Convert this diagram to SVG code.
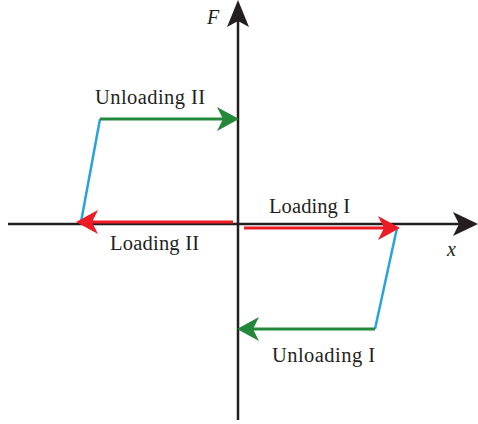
<svg xmlns="http://www.w3.org/2000/svg" width="478" height="424" viewBox="0 0 478 424">
  <style>
    .axis { stroke: #231f20; stroke-width: 2.5; fill: none; }
    .head-k { fill: #231f20; }
    .red { stroke: #ed1c24; stroke-width: 3; fill: none; }
    .head-r { fill: #ed1c24; }
    .green { stroke: #23883a; stroke-width: 3; fill: none; }
    .head-g { fill: #23883a; }
    .blue { stroke: #29a3dd; stroke-width: 2.5; fill: none; }
    .lbl { font-family: "Liberation Serif", "Times New Roman", serif; font-size: 20.5px; fill: #231f20; }
    .var { font-family: "Liberation Serif", "Times New Roman", serif; font-size: 20px; font-style: italic; fill: #231f20; }
  </style>

  <g id="axes">
    <line class="axis" x1="238" y1="20" x2="238" y2="420"/>
    <path class="head-k" d="M238,0 L249,27 L238,21 L227,27 Z"/>
    <line class="axis" x1="8" y1="224" x2="460" y2="224"/>
    <path class="head-k" d="M478,224 L453,236 L459,224 L453,212 Z"/>
    <text class="var" x="207" y="24">F</text>
    <text class="var" x="447" y="256">x</text>
  </g>

  <g id="connectors">
    <!-- elastic return segments -->
    <line class="blue" x1="100" y1="119" x2="81" y2="222"/>
    <line class="blue" x1="397" y1="228" x2="375" y2="329"/>
    <!-- loading branches -->
    <line class="red" x1="244" y1="228" x2="385" y2="228"/>
    <path class="head-r" d="M400,228 L378,240 L384,228 L378,216 Z"/>
    <line class="red" x1="233" y1="222" x2="92" y2="222"/>
    <path class="head-r" d="M76,222 L98,210 L92,222 L98,234 Z"/>
    <!-- unloading branches -->
    <line class="green" x1="100" y1="119" x2="224" y2="119"/>
    <path class="head-g" d="M239,119 L217,131 L223,119 L217,107 Z"/>
    <line class="green" x1="375" y1="329" x2="252" y2="329"/>
    <path class="head-g" d="M237,329 L259,341 L253,329 L259,317 Z"/>
  </g>

  <g id="label-unloading-2"><text class="lbl" x="95" y="104" textLength="110">Unloading II</text></g>
  <g id="label-loading-2"><text class="lbl" x="110" y="250" textLength="89">Loading II</text></g>
  <g id="label-loading-1"><text class="lbl" x="269" y="213" textLength="81">Loading I</text></g>
  <g id="label-unloading-1"><text class="lbl" x="272" y="362" textLength="103">Unloading I</text></g>
</svg>
